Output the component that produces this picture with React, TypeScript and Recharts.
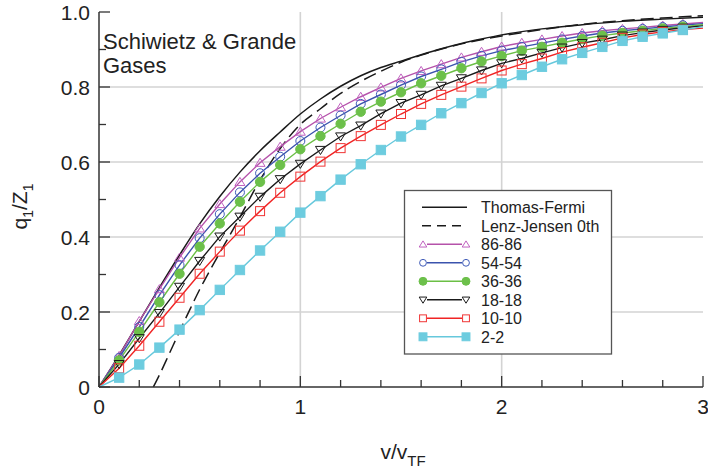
import React from 'react';
import { LineChart, Line, XAxis, YAxis, ReferenceLine, Label } from 'recharts';

// Reduced projectile velocity v/v_TF at which the measured charges are tabulated
const velocity = [
  0, 0.1, 0.2, 0.3, 0.4, 0.5, 0.6, 0.7, 0.8, 0.9, 1.0, 1.1, 1.2, 1.3, 1.4, 1.5,
  1.6, 1.7, 1.8, 1.9, 2.0, 2.1, 2.2, 2.3, 2.4, 2.5, 2.6, 2.7, 2.8, 2.9, 3.0,
];

// Mean charge fraction q1/Z1 for each projectile-target pair (Z1-Z2)
const q86 = [
  0, 0.083, 0.176, 0.261, 0.345, 0.423, 0.488, 0.547, 0.598, 0.641, 0.681, 0.716, 0.746, 0.774, 0.799, 0.823,
  0.843, 0.861, 0.879, 0.894, 0.908, 0.918, 0.927, 0.936, 0.944, 0.95, 0.955, 0.959, 0.964, 0.968, 0.972,
];
const q54 = [
  0, 0.078, 0.16, 0.245, 0.325, 0.397, 0.461, 0.519, 0.57, 0.614, 0.656, 0.692, 0.724, 0.755, 0.78, 0.805,
  0.828, 0.847, 0.867, 0.883, 0.897, 0.907, 0.917, 0.927, 0.936, 0.944, 0.95, 0.955, 0.96, 0.965, 0.969,
];
const q36 = [
  0, 0.071, 0.147, 0.226, 0.302, 0.374, 0.436, 0.494, 0.547, 0.592, 0.634, 0.669, 0.702, 0.734, 0.761, 0.786,
  0.81, 0.83, 0.85, 0.868, 0.883, 0.897, 0.907, 0.918, 0.928, 0.937, 0.944, 0.95, 0.956, 0.961, 0.966,
];
const q18 = [
  0, 0.061, 0.13, 0.197, 0.267, 0.336, 0.401, 0.454, 0.507, 0.554, 0.595, 0.632, 0.668, 0.697, 0.729, 0.757,
  0.779, 0.803, 0.823, 0.844, 0.863, 0.876, 0.891, 0.905, 0.917, 0.926, 0.937, 0.945, 0.952, 0.958, 0.963,
];
const q10 = [
  0, 0.05, 0.11, 0.174, 0.238, 0.302, 0.361, 0.417, 0.469, 0.518, 0.561, 0.601, 0.637, 0.669, 0.699, 0.728,
  0.755, 0.779, 0.801, 0.823, 0.844, 0.861, 0.876, 0.893, 0.906, 0.918, 0.931, 0.94, 0.947, 0.953, 0.957,
];
const q2 = [
  0, 0.025, 0.06, 0.105, 0.153, 0.205, 0.259, 0.312, 0.364, 0.414, 0.465, 0.509, 0.553, 0.594, 0.632, 0.668,
  0.699, 0.73, 0.757, 0.784, 0.81, 0.832, 0.854, 0.874, 0.891, 0.907, 0.923, 0.934, 0.943, 0.952, 0.961,
];

// Thomas-Fermi model curve
const tfVelocity = [
  0, 0.1, 0.2, 0.3, 0.4, 0.5, 0.6, 0.7, 0.8, 0.9, 1.0, 1.1, 1.2, 1.3, 1.4, 1.5,
  1.6, 1.7, 1.8, 1.9, 2.0, 2.2, 2.4, 2.6, 2.8, 3.0,
];
const tfCharge = [
  0, 0.085, 0.175, 0.265, 0.352, 0.435, 0.508, 0.573, 0.63, 0.68, 0.728, 0.768, 0.802, 0.83, 0.852, 0.869,
  0.886, 0.902, 0.916, 0.928, 0.939, 0.955, 0.966, 0.975, 0.981, 0.986,
];

// Lenz-Jensen (0th order) model curve
const ljVelocity = [
  0.27, 0.3, 0.35, 0.4, 0.45, 0.5, 0.55, 0.6, 0.65, 0.7, 0.8, 0.9, 1.0, 1.1, 1.2, 1.3,
  1.4, 1.5, 1.6, 1.8, 2.0, 2.2, 2.4, 2.6, 2.8, 3.0,
];
const ljCharge = [
  0, 0.032, 0.09, 0.148, 0.205, 0.26, 0.31, 0.358, 0.405, 0.453, 0.552, 0.636, 0.7, 0.742, 0.783, 0.815,
  0.842, 0.866, 0.885, 0.915, 0.936, 0.953, 0.967, 0.977, 0.984, 0.99,
];

const xTicks = [0, 0.2, 0.4, 0.6, 0.8, 1, 1.2, 1.4, 1.6, 1.8, 2, 2.2, 2.4, 2.6, 2.8, 3];
const yTicks = [0, 0.1, 0.2, 0.3, 0.4, 0.5, 0.6, 0.7, 0.8, 0.9, 1];
const xGrid = [1, 2];
const yGrid = [0.2, 0.4, 0.6, 0.8];

const FONT = '"Liberation Sans", Arial, Helvetica, sans-serif';
const FRAME = '#333333';
const TEXT = '#222222';
const GRID = '#d3d3d3';

type Shape = 'triUp' | 'triDown' | 'circle' | 'square';

interface Series {
  name: string;
  values: number[];
  color: string;
  markerColor: string;
  shape: Shape;
  filled: boolean;
}

const series: Series[] = [
  { name: '86-86', values: q86, color: '#b552aa', markerColor: '#c061c0', shape: 'triUp', filled: false },
  { name: '54-54', values: q54, color: '#3b53ad', markerColor: '#3f5bb8', shape: 'circle', filled: false },
  { name: '36-36', values: q36, color: '#6bbf45', markerColor: '#6cc04a', shape: 'circle', filled: true },
  { name: '18-18', values: q18, color: '#1a1a1a', markerColor: '#1a1a1a', shape: 'triDown', filled: false },
  { name: '10-10', values: q10, color: '#f02424', markerColor: '#f03535', shape: 'square', filled: false },
  { name: '2-2', values: q2, color: '#66c8dc', markerColor: '#6dccdf', shape: 'square', filled: true },
];

const isMajorX = (v: number) => Math.abs(v - Math.round(v)) < 1e-6;
const isMajorY = (v: number) => Math.abs(v * 5 - Math.round(v * 5)) < 1e-6;

function marker(shape: Shape, cx: number, cy: number, s: number, color: string, filled: boolean, key?: string) {
  const fill = filled ? color : 'none';
  const common = { key, stroke: color, strokeWidth: 1, fill };
  if (shape === 'circle') return <circle {...common} cx={cx} cy={cy} r={s * 0.9} />;
  if (shape === 'square') return <rect {...common} x={cx - s * 0.9} y={cy - s * 0.9} width={s * 1.8} height={s * 1.8} />;
  const h = s * 0.9;
  const pts =
    shape === 'triUp'
      ? `${cx},${cy - h} ${cx - s},${cy + h * 0.8} ${cx + s},${cy + h * 0.8}`
      : `${cx},${cy + h} ${cx - s},${cy - h * 0.8} ${cx + s},${cy - h * 0.8}`;
  return <polygon {...common} points={pts} />;
}

const BottomTick = (p: any) => {
  const { x, y, payload } = p;
  const major = isMajorX(payload.value);
  return (
    <g>
      <line x1={x} x2={x} y1={y} y2={y - (major ? 11 : 7)} stroke={FRAME} strokeWidth={1.3} />
      {major && (
        <text x={x} y={y + 27} textAnchor="middle" fontSize={21} fill={TEXT} fontFamily={FONT}>
          {payload.value}
        </text>
      )}
    </g>
  );
};

const TopTick = (p: any) => {
  const { x, y, payload } = p;
  const major = isMajorX(payload.value);
  return <line x1={x} x2={x} y1={y} y2={y + (major ? 11 : 7)} stroke={FRAME} strokeWidth={1.3} />;
};

const LeftTick = (p: any) => {
  const { x, y, payload } = p;
  const v = payload.value;
  const major = isMajorY(v);
  return (
    <g>
      <line x1={x} x2={x + (major ? 11 : 7)} y1={y} y2={y} stroke={FRAME} strokeWidth={1.3} />
      {major && (
        <text x={x - 9} y={y + 7.5} textAnchor="end" fontSize={21} fill={TEXT} fontFamily={FONT}>
          {v === 0 ? '0' : v.toFixed(1)}
        </text>
      )}
    </g>
  );
};

const RightTick = (p: any) => {
  const { x, y, payload } = p;
  const major = isMajorY(payload.value);
  return <line x1={x} x2={x - (major ? 11 : 7)} y1={y} y2={y} stroke={FRAME} strokeWidth={1.3} />;
};

const XTitle = (props: any) => {
  const vb = props.viewBox;
  return (
    <text x={vb.x + vb.width / 2 + 2} y={vb.y + 72} textAnchor="middle" fontSize={21} fill={TEXT} fontFamily={FONT}>
      v/v
      <tspan dy={7} fontSize={15}>TF</tspan>
    </text>
  );
};

const YTitle = (props: any) => {
  const vb = props.viewBox;
  const cx = vb.x + 27;
  const cy = vb.y + vb.height / 2 + 7;
  return (
    <text x={cx} y={cy} transform={`rotate(-90, ${cx}, ${cy})`} textAnchor="middle" fontSize={21} fill={TEXT} fontFamily={FONT}>
      q<tspan dy={6} fontSize={14}>1</tspan>
      <tspan dy={-6}>/Z</tspan>
      <tspan dy={6} fontSize={14}>1</tspan>
    </text>
  );
};

// Legend drawn as its own small SVG layer in the upper right of the lower plot half
function ChargeLegend() {
  const left = 404.5;
  const top = 190.5;
  const rowY = (i: number) => 207.3 + i * 18.5;
  const x1 = 422;
  const x2 = 467;
  const tx = 481;
  const text = (i: number, label: string) => (
    <text x={tx} y={rowY(i) + 6} fontSize={16} fill={TEXT} fontFamily={FONT}>
      {label}
    </text>
  );
  return (
    <g>
      <rect x={left} y={top} width={207} height={163.5} fill="#fff" stroke="#555" strokeWidth={1.3} />
      <line x1={x1} x2={x2} y1={rowY(0)} y2={rowY(0)} stroke="#1a1a1a" strokeWidth={1.5} />
      {text(0, 'Thomas-Fermi')}
      <line x1={x1} x2={x2} y1={rowY(1)} y2={rowY(1)} stroke="#1a1a1a" strokeWidth={1.5} strokeDasharray="9 6" />
      {text(1, 'Lenz-Jensen 0th')}
      {series.map((s, k) => {
        const y = rowY(k + 2);
        return (
          <g key={s.name}>
            <line x1={x1 + 5} x2={x2 - 5} y1={y} y2={y} stroke={s.color} strokeWidth={1.5} />
            {marker(s.shape, x1 + 1, y, s.filled ? 4.4 : 3.8, s.markerColor, s.filled)}
            {marker(s.shape, x2 - 1, y, s.filled ? 4.4 : 3.8, s.markerColor, s.filled)}
            {text(k + 2, s.name)}
          </g>
        );
      })}
    </g>
  );
}

export default function App() {
  const tfData = tfVelocity.map((v, i) => ({ v, q: tfCharge[i] }));
  const ljData = ljVelocity.map((v, i) => ({ v, q: ljCharge[i] }));

  return (
    <div style={{ position: 'absolute', left: 0, top: 0, width: 708, height: 473, background: '#fff' }}>
      <LineChart width={708} height={473} margin={{ top: 12, right: 5, bottom: 0, left: 0 }}>
        <XAxis
          xAxisId="b"
          type="number"
          dataKey="v"
          domain={[0, 3]}
          ticks={xTicks}
          interval={0}
          tick={BottomTick}
          tickLine={false}
          tickSize={0}
          tickMargin={0}
          height={86}
          axisLine={{ stroke: FRAME, strokeWidth: 1.5 }}
        >
          <Label content={XTitle} />
        </XAxis>
        <XAxis
          xAxisId="t"
          orientation="top"
          type="number"
          domain={[0, 3]}
          ticks={xTicks}
          interval={0}
          tick={TopTick}
          tickLine={false}
          tickSize={0}
          tickMargin={0}
          height={0}
          axisLine={{ stroke: FRAME, strokeWidth: 1.5 }}
        />
        <YAxis
          yAxisId="l"
          type="number"
          domain={[0, 1]}
          ticks={yTicks}
          interval={0}
          tick={LeftTick}
          tickLine={false}
          tickSize={0}
          tickMargin={0}
          width={99}
          axisLine={{ stroke: FRAME, strokeWidth: 1.5 }}
        >
          <Label content={YTitle} />
        </YAxis>
        <YAxis
          yAxisId="r"
          orientation="right"
          type="number"
          domain={[0, 1]}
          ticks={yTicks}
          interval={0}
          tick={RightTick}
          tickLine={false}
          tickSize={0}
          tickMargin={0}
          width={0}
          axisLine={{ stroke: FRAME, strokeWidth: 1.5 }}
        />

        {xGrid.map((g) => (
          <ReferenceLine key={`gx${g}`} x={g} xAxisId="b" yAxisId="l" stroke={GRID} strokeWidth={1.6} />
        ))}
        {yGrid.map((g) => (
          <ReferenceLine key={`gy${g}`} y={g} xAxisId="b" yAxisId="l" stroke={GRID} strokeWidth={1.6} />
        ))}

        <Line
          data={tfData}
          dataKey="q"
          xAxisId="b"
          yAxisId="l"
          type="monotone"
          stroke="#1a1a1a"
          strokeWidth={1.5}
          dot={false}
          activeDot={false}
          isAnimationActive={false}
        />
        <Line
          data={ljData}
          dataKey="q"
          xAxisId="b"
          yAxisId="l"
          type="monotone"
          stroke="#1a1a1a"
          strokeWidth={1.5}
          strokeDasharray="13 6"
          dot={false}
          activeDot={false}
          isAnimationActive={false}
        />
        {series.map((s) => (
          <Line
            key={s.name}
            data={velocity.map((v, i) => ({ v, q: s.values[i] }))}
            dataKey="q"
            xAxisId="b"
            yAxisId="l"
            type="linear"
            stroke={s.color}
            strokeWidth={1.4}
            activeDot={false}
            isAnimationActive={false}
            dot={(p: any) => {
              const v = p.payload.v;
              if (v <= 0 || v >= 3) return <g key={p.key ?? `${s.name}-${p.index}`} />;
              return (
                <g key={p.key ?? `${s.name}-${p.index}`}>
                  {marker(s.shape, p.cx, p.cy, s.filled ? 5.2 : 5, s.markerColor, s.filled)}
                </g>
              );
            }}
          />
        ))}
      </LineChart>

      <svg width={708} height={473} style={{ position: 'absolute', left: 0, top: 0, pointerEvents: 'none' }}>
        <text x={103} y={49} fontSize={22} fill={TEXT} fontFamily={FONT}>
          Schiwietz &amp; Grande
        </text>
        <text x={103} y={73} fontSize={22} fill={TEXT} fontFamily={FONT}>
          Gases
        </text>
        <ChargeLegend />
      </svg>
    </div>
  );
}
